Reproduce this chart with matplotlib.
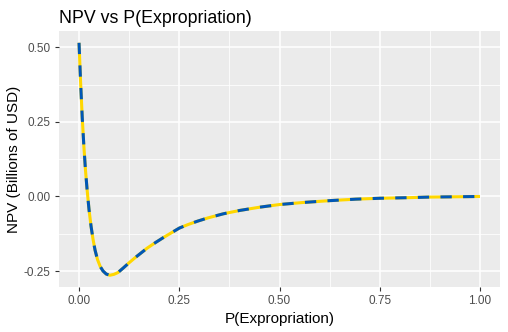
import matplotlib

matplotlib.use("Agg")
import matplotlib.pyplot as plt
from matplotlib.ticker import FixedLocator

plt.rcParams["font.family"] = ["Liberation Sans", "DejaVu Sans"]

# values
p_expropriation = [0.0, 0.004, 0.008, 0.012, 0.016, 0.02, 0.025, 0.03, 0.035, 0.04,
                   0.046, 0.053, 0.06, 0.068, 0.077, 0.087, 0.097, 0.11, 0.125, 0.14,
                   0.155, 0.17, 0.19, 0.21, 0.23, 0.25, 0.272, 0.295, 0.321, 0.36,
                   0.40, 0.45, 0.50, 0.56, 0.625, 0.69, 0.75, 0.82, 0.875, 0.94, 1.0]
npv_billions = [0.515, 0.38, 0.265, 0.17, 0.09, 0.025, -0.045, -0.10, -0.144, -0.18,
                -0.211, -0.235, -0.25, -0.26, -0.264, -0.261, -0.255, -0.24, -0.222, -0.205,
                -0.189, -0.173, -0.155, -0.138, -0.122, -0.106, -0.094, -0.083, -0.072, -0.058,
                -0.047, -0.036, -0.027, -0.02, -0.014, -0.009, -0.006, -0.004, -0.002, -0.001, 0.0]

x_ticks = [0.0, 0.25, 0.5, 0.75, 1.0]
x_tick_labels = ["0.00", "0.25", "0.50", "0.75", "1.00"]
y_ticks = [-0.25, 0.0, 0.25, 0.5]
y_tick_labels = ["-0.25", "0.00", "0.25", "0.50"]

yellow = "#FFD700"
blue = "#0057B7"

fig = plt.figure(figsize=(5.08, 3.32), dpi=100)
ax = fig.add_axes([0.1161, 0.1355, 0.8682, 0.7711])
ax.set_facecolor("#EBEBEB")

ax.plot(p_expropriation, npv_billions, color=yellow, lw=2.2, solid_capstyle="butt",
        solid_joinstyle="round", zorder=3)
ax.plot(p_expropriation, npv_billions, color=blue, lw=2.2, linestyle=(0, (3.7, 3.7)),
        dash_capstyle="butt", zorder=4)

ax.set_xlim(-0.05, 1.05)
ax.set_ylim(-0.3034, 0.5545)

ax.set_xticks(x_ticks, labels=x_tick_labels)
ax.set_yticks(y_ticks, labels=y_tick_labels)
ax.xaxis.set_minor_locator(FixedLocator([0.125, 0.375, 0.625, 0.875]))
ax.yaxis.set_minor_locator(FixedLocator([-0.125, 0.125, 0.375]))
ax.grid(which="major", color="white", lw=1.1)
ax.grid(which="minor", color="white", lw=0.55)
ax.set_axisbelow(True)
ax.tick_params(which="major", length=3, width=0.8, color="#333333",
               labelcolor="#4D4D4D", labelsize=8.5, pad=3)
ax.tick_params(which="minor", length=0)
for spine in ax.spines.values():
    spine.set_visible(False)

ax.set_xlabel("P(Expropriation)", fontsize=11, labelpad=3)
ax.set_ylabel("NPV (Billions of USD)", fontsize=11, labelpad=2)
ax.set_title("NPV vs P(Expropriation)", fontsize=12.8, loc="left", pad=6)

fig.savefig("out.png", dpi=100)
plt.close(fig)
